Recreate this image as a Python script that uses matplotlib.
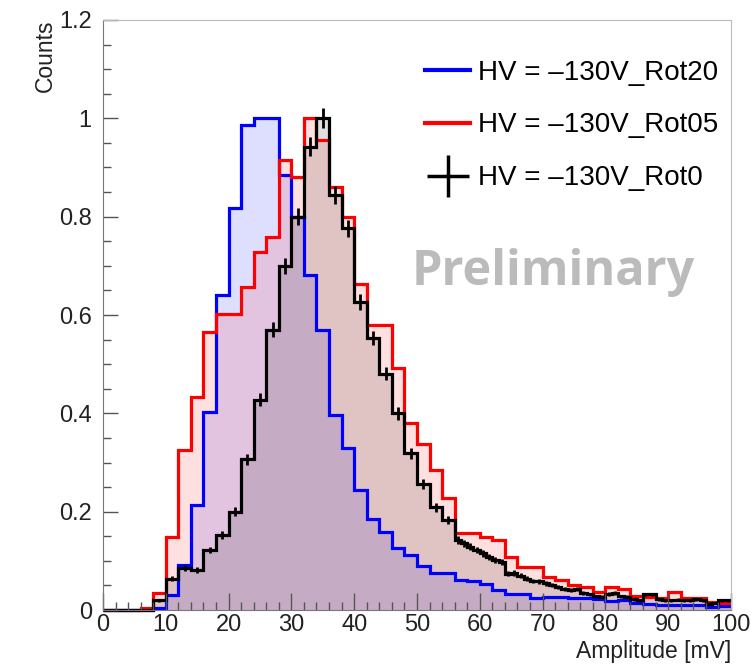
import matplotlib.pyplot as plt
import numpy as np
from matplotlib.lines import Line2D
from matplotlib.ticker import MultipleLocator

plt.rcParams['font.family'] = ['Liberation Sans', 'DejaVu Sans']

# --- data (normalised counts) ---
# Rot20 and Rot05: 2 mV bins from 0 to 100 mV
rot20_vals = [0, 0, 0, 0, 0.005, 0.031, 0.092, 0.214, 0.403, 0.641,
              0.817, 0.986, 1.0, 1.0, 0.885, 0.80, 0.681, 0.570, 0.397, 0.329,
              0.244, 0.186, 0.159, 0.127, 0.112, 0.090, 0.076, 0.076, 0.062, 0.058,
              0.053, 0.041, 0.032, 0.032, 0.024, 0.027, 0.027, 0.024, 0.024, 0.022,
              0.019, 0.020, 0.015, 0.012, 0.011, 0.011, 0.010, 0.010, 0.006, 0.008]
rot05_vals = [0, 0, 0, 0.005, 0.034, 0.149, 0.325, 0.434, 0.566, 0.603,
              0.603, 0.656, 0.729, 0.759, 0.915, 0.881, 1.0, 0.956, 0.861, 0.80,
              0.664, 0.580, 0.580, 0.492, 0.380, 0.337, 0.285, 0.227, 0.157, 0.157,
              0.149, 0.143, 0.108, 0.088, 0.088, 0.068, 0.061, 0.050, 0.046, 0.036,
              0.046, 0.042, 0.028, 0.027, 0.025, 0.037, 0.024, 0.024, 0.016, 0.015]
# Rot0: 2 mV bins up to 56 mV, then 1 mV bins
rot0_vals = [0, 0, 0, 0, 0.020, 0.064, 0.085, 0.081, 0.122, 0.153,
             0.200, 0.307, 0.428, 0.570, 0.700, 0.800, 0.942, 1.0, 0.844, 0.776,
             0.627, 0.553, 0.481, 0.400, 0.319, 0.256, 0.209, 0.183,
             0.142, 0.136, 0.129, 0.122, 0.115, 0.108, 0.102, 0.098, 0.074, 0.075,
             0.070, 0.064, 0.059, 0.058, 0.054, 0.051, 0.047, 0.043, 0.040, 0.042,
             0.035, 0.032, 0.028, 0.027, 0.033, 0.034, 0.028, 0.027, 0.022, 0.020,
             0.032, 0.032, 0.022, 0.020, 0.020, 0.021, 0.020, 0.020, 0.022, 0.020,
             0.013, 0.014, 0.020, 0.020]
labels = ['HV = \u2013130V_Rot20', 'HV = \u2013130V_Rot05', 'HV = \u2013130V_Rot0']
xticks = [0, 10, 20, 30, 40, 50, 60, 70, 80, 90, 100]
yticks = [0, 0.2, 0.4, 0.6, 0.8, 1.0, 1.2]
ytick_labels = ['0', '0.2', '0.4', '0.6', '0.8', '1', '1.2']

edges2 = np.arange(0, 101, 2)
edges0 = np.concatenate([np.arange(0, 56, 2), np.arange(56, 101, 1)])

fig = plt.figure(figsize=(7.56, 6.71), dpi=100)
ax = fig.add_axes([0.1362, 0.0909, 0.8307, 0.8793])

# fills first, then outlines
ax.stairs(rot20_vals, edges2, fill=True, color='blue', alpha=0.13, lw=0)
ax.stairs(rot05_vals, edges2, fill=True, color='red', alpha=0.12, lw=0)
ax.stairs(rot0_vals, edges0, fill=True, color='black', alpha=0.12, lw=0)

ax.stairs(rot20_vals, edges2, baseline=None, color='#0000ff', lw=2.3, clip_on=False)
ax.stairs(rot05_vals, edges2, baseline=None, color='#ff0000', lw=2.3, clip_on=False)
ax.stairs(rot0_vals, edges0, baseline=None, color='black', lw=2.3, clip_on=False)

# error bars on Rot0
v0 = np.array(rot0_vals)
centers0 = 0.5 * (edges0[:-1] + edges0[1:])
err0 = np.sqrt(v0 / 2500.0)
mask = v0 > 0
ax.errorbar(centers0[mask], v0[mask], yerr=err0[mask], fmt='none',
            ecolor='black', elinewidth=2)

ax.set_xlim(0, 100)
ax.set_ylim(0, 1.2)
ax.set_xticks(xticks)
ax.set_yticks(yticks)
ax.set_yticklabels(ytick_labels)
ax.xaxis.set_minor_locator(MultipleLocator(2))
ax.yaxis.set_minor_locator(MultipleLocator(0.05))
ax.tick_params(which='both', direction='in', top=False, right=False,
               color='#555555', labelcolor='#222222')
ax.tick_params(axis='x', which='major', length=12, width=1, labelsize=17, pad=3)
ax.tick_params(axis='x', which='minor', length=5.5, width=1)
ax.tick_params(axis='y', which='major', length=11, width=1, labelsize=17, pad=8)
ax.tick_params(axis='y', which='minor', length=5.5, width=1)

for s in ['top', 'right']:
    ax.spines[s].set_color('#bbbbbb')
for s in ['left', 'bottom']:
    ax.spines[s].set_color('#777777')

ax.text(-0.092, 1.0, 'Counts', rotation=90, ha='center', va='top',
        fontsize=16.5, color='#222222', transform=ax.transAxes)
ax.text(1.0, -0.0695, 'Amplitude [mV]', ha='right', va='center',
        fontsize=16.5, color='#222222', transform=ax.transAxes)

ax.text(71.7, 0.687, 'Preliminary', fontsize=35, fontweight='bold',
        color='#bbbbbb', ha='center', va='center',
        family=['Open Sans', 'DejaVu Sans'])

h_blue = Line2D([], [], color='#0000ff', lw=3)
h_red = Line2D([], [], color='#ff0000', lw=3)
h_black = Line2D([], [], color='black', lw=0, marker='+', markersize=30, mew=2.5)
ax.legend([h_blue, h_red, h_black], labels, loc='upper left',
          bbox_to_anchor=(0.513, 0.933), frameon=False, fontsize=20,
          handlelength=1.62, handletextpad=0.29, labelspacing=0.97,
          borderpad=0, borderaxespad=0)

fig.savefig('out.png', dpi=100)
